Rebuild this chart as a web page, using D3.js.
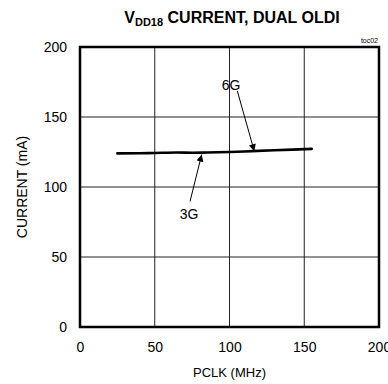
<!DOCTYPE html>
<html>
<head>
<meta charset="utf-8">
<script src="https://cdn.jsdelivr.net/npm/d3@7"></script>
<style>
  body { margin: 0; background: #fff; }
  text { font-family: "Liberation Sans", Arial, sans-serif; fill: #000; }
</style>
</head>
<body>
<div id="chart"></div>
<script>
// PCLK (MHz) and VDD18 current (mA)
const pclk = [25, 40, 50, 65, 75, 85, 100, 115, 130, 155];
const current = [124, 124.1, 124.3, 124.6, 124.5, 124.6, 125, 125.6, 126.2, 127.2];

const xTicks = [0, 50, 100, 150, 200];
const yTicks = [0, 50, 100, 150, 200];

// callouts: label position, arrow tail, arrow head (data units)
const labels = ['6G', '3G'];
const labelPos = [[101, 173], [73, 81]];
const arrowFrom = [[105.2, 168.7], [73.6, 89.7]];
const arrowTo = [[116.6, 125.5], [81.4, 123.2]];

const width = 388;
const height = 384;
const margin = { top: 47, right: 9, bottom: 57, left: 80 };
const w = width - margin.left - margin.right;
const h = height - margin.top - margin.bottom;

const svg = d3
  .select('#chart')
  .append('svg')
  .attr('width', width)
  .attr('height', height);

const defs = svg.append('defs');
defs
  .append('marker')
  .attr('id', 'arrow')
  .attr('viewBox', '0 0 10 10')
  .attr('refX', 10)
  .attr('refY', 5)
  .attr('markerWidth', 9)
  .attr('markerHeight', 7)
  .attr('markerUnits', 'userSpaceOnUse')
  .attr('orient', 'auto')
  .append('path')
  .attr('d', 'M0,0L10,5L0,10z')
  .attr('fill', '#000');

// title
const title = svg
  .append('text')
  .attr('x', 232)
  .attr('y', 23)
  .attr('text-anchor', 'middle')
  .style('font-weight', 'bold')
  .style('font-size', '16px');
title.append('tspan').text('V');
title.append('tspan').attr('dy', 3).style('font-size', '11px').text('DD18');
title.append('tspan').attr('dy', -3).text(' CURRENT, DUAL OLDI');

svg
  .append('text')
  .attr('x', width - 10)
  .attr('y', 43)
  .attr('text-anchor', 'end')
  .style('font-size', '7px')
  .text('toc02');

const g = svg
  .append('g')
  .attr('transform', `translate(${margin.left},${margin.top})`);

const x = d3.scaleLinear().domain([0, 200]).range([0, w]);
const y = d3.scaleLinear().domain([0, 200]).range([h, 0]);

// grid
g.append('g')
  .selectAll('line')
  .data(xTicks.slice(1, -1))
  .enter()
  .append('line')
  .attr('x1', (d) => x(d))
  .attr('x2', (d) => x(d))
  .attr('y1', 0)
  .attr('y2', h)
  .attr('stroke', '#222')
  .attr('stroke-width', 1);

g.append('g')
  .selectAll('line')
  .data(yTicks.slice(1, -1))
  .enter()
  .append('line')
  .attr('x1', 0)
  .attr('x2', w)
  .attr('y1', (d) => y(d))
  .attr('y2', (d) => y(d))
  .attr('stroke', '#222')
  .attr('stroke-width', 1);

// axes (labels only)
const xAxis = g
  .append('g')
  .attr('transform', `translate(0,${h})`)
  .call(d3.axisBottom(x).tickValues(xTicks).tickSize(0).tickPadding(15));
xAxis.select('.domain').remove();
xAxis.selectAll('text').style('font-size', '14px').attr('font-family', null);

const yAxis = g
  .append('g')
  .call(d3.axisLeft(y).tickValues(yTicks).tickSize(0).tickPadding(13));
yAxis.select('.domain').remove();
yAxis.selectAll('text').style('font-size', '14px').attr('font-family', null);

svg
  .append('text')
  .attr('x', margin.left + w / 2)
  .attr('y', 377)
  .attr('text-anchor', 'middle')
  .style('font-size', '13px')
  .text('PCLK (MHz)');

svg
  .append('text')
  .attr('transform', `translate(27,${margin.top + h / 2}) rotate(-90)`)
  .attr('text-anchor', 'middle')
  .style('font-size', '14px')
  .text('CURRENT (mA)');

// frame
g.append('rect')
  .attr('x', 0)
  .attr('y', 0)
  .attr('width', w)
  .attr('height', h)
  .attr('fill', 'none')
  .attr('stroke', '#000')
  .attr('stroke-width', 2.5);

// curve
const line = d3
  .line()
  .x((d, i) => x(pclk[i]))
  .y((d) => y(d))
  .curve(d3.curveMonotoneX);

g.append('path')
  .datum(current)
  .attr('d', line)
  .attr('fill', 'none')
  .attr('stroke', '#000')
  .attr('stroke-width', 2.6)
  .attr('stroke-linecap', 'round');

// callouts
labels.forEach((label, i) => {
  g.append('line')
    .attr('x1', x(arrowFrom[i][0]))
    .attr('y1', y(arrowFrom[i][1]))
    .attr('x2', x(arrowTo[i][0]))
    .attr('y2', y(arrowTo[i][1]))
    .attr('stroke', '#000')
    .attr('stroke-width', 1)
    .attr('marker-end', 'url(#arrow)');

  g.append('text')
    .attr('x', x(labelPos[i][0]))
    .attr('y', y(labelPos[i][1]))
    .attr('dy', '0.35em')
    .attr('text-anchor', 'middle')
    .style('font-size', '14px')
    .text(label);
});
</script>
</body>
</html>
